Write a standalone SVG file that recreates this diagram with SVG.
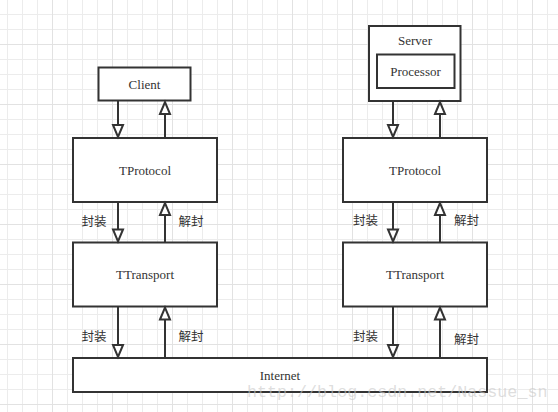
<svg xmlns="http://www.w3.org/2000/svg" width="558" height="412" viewBox="0 0 558 412">
<style>
.box{fill:#fff;stroke:#333;stroke-width:2}
.lbl{font-family:"Liberation Serif","Times New Roman",serif;font-size:13px;fill:#333;text-anchor:middle;dominant-baseline:central}
.cn{font-family:"Noto Sans CJK SC","Noto Sans",sans-serif;font-size:12.5px;fill:#333;text-anchor:middle;dominant-baseline:central}
.ln{fill:none;stroke:#333;stroke-width:2}
</style>
<defs>
<pattern id="g1" width="15" height="15" x="7" y="14" patternUnits="userSpaceOnUse">
<path d="M0.5 0V15M0 0.5H15" fill="none" stroke="#ececec" stroke-width="1"/>
</pattern>
<pattern id="g2" width="60" height="60" x="52" y="44" patternUnits="userSpaceOnUse">
<path d="M0.5 0V60M0 0.5H60" fill="none" stroke="#e2e2e2" stroke-width="1"/>
</pattern>
<marker id="ah" markerUnits="userSpaceOnUse" markerWidth="16" markerHeight="14" refX="13" refY="6" orient="auto" overflow="visible">
<path d="M1,1 L13,6 L1,11 Z" fill="#fff" stroke="#333" stroke-width="2" stroke-linejoin="miter"/>
</marker>
</defs>
<rect width="558" height="412" fill="#fff"/>
<rect width="558" height="412" fill="url(#g1)"/>
<rect width="558" height="412" fill="url(#g2)"/>

<g id="client"><rect class="box" x="98.5" y="67.5" width="92" height="33"/><text class="lbl" x="144.5" y="84.5">Client</text></g>
<g id="tprotocol-left"><rect class="box" x="73" y="138" width="144" height="64"/><text class="lbl" x="145" y="170">TProtocol</text></g>
<g id="ttransport-left"><rect class="box" x="73" y="242.5" width="144" height="64"/><text class="lbl" x="145" y="274.5">TTransport</text></g>
<g id="server"><rect class="box" x="369" y="26" width="91.5" height="75"/><text class="lbl" x="415" y="40">Server</text></g>
<g id="processor"><rect class="box" x="377" y="54.5" width="77.5" height="33.5"/><text class="lbl" x="415.5" y="71.5">Processor</text></g>
<g id="tprotocol-right"><rect class="box" x="343" y="138" width="144" height="64"/><text class="lbl" x="415" y="170">TProtocol</text></g>
<g id="ttransport-right"><rect class="box" x="343" y="242.5" width="144" height="64"/><text class="lbl" x="415" y="274.5">TTransport</text></g>
<g id="internet"><rect class="box" x="73" y="358" width="414" height="34"/><text class="lbl" x="280" y="375">Internet</text></g>

<g id="connectors">
<line class="ln" x1="118" y1="101" x2="118" y2="137" marker-end="url(#ah)"/>
<line class="ln" x1="165" y1="138" x2="165" y2="102" marker-end="url(#ah)"/>
<line class="ln" x1="118" y1="202" x2="118" y2="241.5" marker-end="url(#ah)"/>
<line class="ln" x1="165" y1="242.5" x2="165" y2="203" marker-end="url(#ah)"/>
<line class="ln" x1="118" y1="306.5" x2="118" y2="357" marker-end="url(#ah)"/>
<line class="ln" x1="165" y1="358" x2="165" y2="307.5" marker-end="url(#ah)"/>
<line class="ln" x1="393" y1="101" x2="393" y2="137" marker-end="url(#ah)"/>
<line class="ln" x1="440" y1="138" x2="440" y2="102" marker-end="url(#ah)"/>
<line class="ln" x1="393" y1="202" x2="393" y2="241.5" marker-end="url(#ah)"/>
<line class="ln" x1="440" y1="242.5" x2="440" y2="203" marker-end="url(#ah)"/>
<line class="ln" x1="393" y1="306.5" x2="393" y2="357" marker-end="url(#ah)"/>
<line class="ln" x1="440" y1="358" x2="440" y2="307.5" marker-end="url(#ah)"/>
<text class="cn" x="94" y="220">封装</text>
<text class="cn" x="191" y="220">解封</text>
<text class="cn" x="94" y="335">封装</text>
<text class="cn" x="191" y="335">解封</text>
<text class="cn" x="365.5" y="219">封装</text>
<text class="cn" x="466.5" y="219">解封</text>
<text class="cn" x="365.5" y="335">封装</text>
<text class="cn" x="466.5" y="338">解封</text>
</g>
<text x="247" y="397" font-family="Liberation Mono,Courier New,monospace" font-size="16.7" fill="#c8c8c8" fill-opacity="0.6">http://blog.csdn.net/Nassue_sn</text>
</svg>
